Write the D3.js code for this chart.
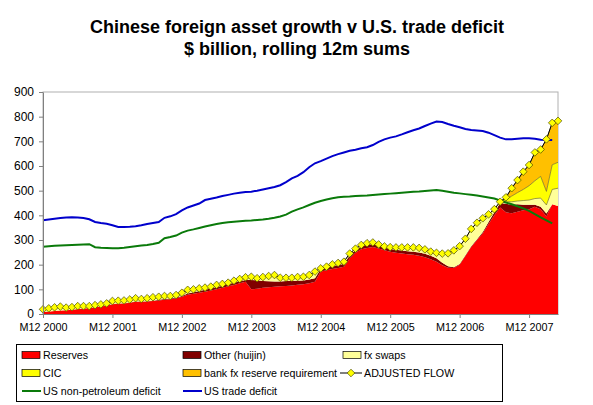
<!DOCTYPE html>
<html><head><meta charset="utf-8">
<script src="https://cdn.jsdelivr.net/npm/d3@7"></script>
<style>
body{margin:0;background:#fff}
svg{display:block}
text{font-family:"Liberation Sans",Arial,sans-serif}
</style></head>
<body><svg id="c" width="593" height="405"></svg>
<script>
// ---- data ($ billion, rolling 12m sums), monthly from Dec 2000 ----
const months = d3.range(90).map(i => "M" + ((11 + i) % 12 + 1) + " " + (2000 + Math.floor((11 + i) / 12)));
const xTickLabels = ["M12 2000","M12 2001","M12 2002","M12 2003","M12 2004","M12 2005","M12 2006","M12 2007"];
const yTicks = [0,100,200,300,400,500,600,700,800,900];

const reserves = [8,10,12,14,15,17,20,22,24,27,
  30,34,40,42,43,46,50,50,51,53,
  55,58,60,64,70,78,82,86,90,95,
  100,106,112,118,125,131,100,102,106,108,
  110,112,114,116,119,121,125,131,172,177,
  182,186,192,225,248,262,268,272,266,258,
  252,248,245,242,240,236,230,222,212,198,
  188,186,200,235,272,300,327,365,400,432,
  412,408,415,421,425,435,425,395,445,438];
const other = [0,0,0,0,0,0,0,0,0,0,
  0,0,1,1,1,1,1,1,1,1,
  3,3,3,3,3,5,6,7,8,8,
  9,9,9,9,8,7,38,35,28,25,
  22,20,20,18,16,15,15,14,10,10,
  12,12,12,12,12,12,12,12,12,12,
  12,12,12,12,12,13,14,14,14,10,
  6,4,3,3,3,3,5,8,12,18,
  35,35,30,22,18,8,10,12,0,0];
const fxSwaps = [11,13,15,16,11,11,12,10,8,9,
  9,9,12,11,11,12,13,10,12,14,
  12,12,10,10,13,15,12,11,9,8,
  9,7,6,8,9,11,13,8,16,21,
  26,15,13,13,15,15,18,27,3,5,
  7,9,8,8,5,6,7,6,4,4,
  7,10,13,16,18,19,18,17,22,37,
  52,68,72,67,70,67,56,31,13,5,
  8,12,13,17,19,25,35,35,60,72];
const cic = [0,0,0,0,0,0,0,0,0,0,
  0,0,0,0,0,0,0,0,0,0,
  0,0,0,0,0,0,0,0,0,0,
  0,0,0,0,0,0,0,0,0,0,
  0,0,0,0,0,0,0,0,0,0,
  0,0,0,0,0,0,0,0,0,0,
  0,0,0,0,0,0,0,0,0,0,
  0,0,0,0,0,0,0,0,0,0,
  10,23,34,45,58,72,88,55,100,105];
const bank = [0,0,0,0,0,0,0,0,0,0,
  0,0,0,0,0,0,0,0,0,0,
  0,0,0,0,0,0,0,0,0,0,
  0,0,0,0,0,0,0,0,0,0,
  0,0,0,0,0,0,0,0,0,0,
  0,0,0,0,0,0,0,0,0,0,
  0,0,0,0,0,0,0,0,0,0,
  0,0,0,0,0,0,0,0,0,0,
  8,32,51,72,84,115,109,211,170,168];
const adjustedFlow = [19,23,27,30,26,28,32,32,32,36,
  39,43,53,54,55,59,64,61,64,68,
  70,73,73,77,86,98,100,104,107,111,
  118,122,127,135,142,149,151,145,150,154,
  158,147,147,147,150,151,158,172,185,192,
  201,207,212,245,265,280,287,290,282,274,
  271,270,270,270,270,268,262,253,248,245,
  246,258,275,305,345,370,388,404,425,455,
  473,510,543,577,604,655,667,708,775,783];
const nonPetroleum = [273,275,277,278,279,280,281,282,283,271,
  269,268,267,267,269,272,275,278,280,284,
  289,307,312,318,330,338,343,349,355,360,
  365,369,372,374,376,378,379,381,383,386,
  390,395,403,415,424,432,442,451,458,464,
  469,473,475,476,478,479,480,482,484,486,
  488,490,492,494,496,497,499,501,503,500,
  496,492,489,486,483,480,476,472,468,460,
  452,445,437,428,418,405,392,380,367];
const tradeDeficit = [380,383,386,389,391,392,391,389,384,373,
  369,366,360,353,353,354,356,360,365,369,
  373,390,396,405,420,432,440,448,462,467,
  472,478,483,488,492,495,496,500,505,510,
  515,522,535,550,560,575,595,611,620,630,
  640,648,655,662,666,672,676,685,698,708,
  715,720,728,737,745,752,762,772,780,778,
  770,763,757,750,746,744,742,735,725,715,
  708,708,710,712,712,710,706,705,705];

// ---- setup ----
const svg = d3.select("#c");
const L = 43, R = 558, T = 92, B = 314;
const x = d3.scalePoint().domain(months).range([L, R]);
const y = d3.scaleLinear().domain([0, 900]).range([B, T]);

const stackKeys = ["reserves","other","fxSwaps","cic","bank"];
const stackColors = {reserves:"#FF0000", other:"#800000", fxSwaps:"#FFFF99", cic:"#FFFF00", bank:"#FFC000"};
const rows = months.map((m, i) => ({m, i, reserves:reserves[i], other:other[i], fxSwaps:fxSwaps[i], cic:cic[i], bank:bank[i]}));
const series = d3.stack().keys(stackKeys)(rows);

// title
svg.append("text").attr("x", 297).attr("y", 33).attr("text-anchor","middle")
  .attr("font-size", 18).attr("font-weight","bold").text("Chinese foreign asset growth v U.S. trade deficit");
svg.append("text").attr("x", 297).attr("y", 55).attr("text-anchor","middle")
  .attr("font-size", 18).attr("font-weight","bold").text("$ billion, rolling 12m sums");

// plot border
svg.append("rect").attr("x", L).attr("y", T).attr("width", R - L).attr("height", B - T)
  .attr("fill","none").attr("stroke","#b0b0b0");

// areas
const area = d3.area().x(d => x(d.data.m)).y0(d => y(d[0])).y1(d => y(d[1]));
svg.append("g").selectAll("path").data(series).join("path")
  .attr("d", area).attr("fill", d => stackColors[d.key]);

// outlines on upper layers
const topLine = d3.line().x(d => x(d.data.m)).y(d => y(d[1]));
series.filter(s => s.key === "fxSwaps").forEach(s => {
  svg.append("path").attr("d", topLine(s)).attr("fill","none").attr("stroke","#5a5a20").attr("stroke-width",0.6);
});
series.filter(s => s.key === "cic" || s.key === "bank").forEach(s => {
  const seg = s.filter((d, i) => i >= 79);
  svg.append("path").attr("d", topLine(seg)).attr("fill","none").attr("stroke","#5a5a20").attr("stroke-width",0.6);
});

// lines
const line = d3.line().x((d, i) => x(months[i])).y(d => y(d));
svg.append("path").attr("d", line(nonPetroleum)).attr("fill","none").attr("stroke","#0A7A0A").attr("stroke-width",2);
svg.append("path").attr("d", line(tradeDeficit)).attr("fill","none").attr("stroke","#0000CC").attr("stroke-width",2);
svg.append("path").attr("d", line(adjustedFlow)).attr("fill","none").attr("stroke","#000").attr("stroke-width",1);

const diamond = "M0,-3.8L3.8,0L0,3.8L-3.8,0Z";
svg.append("g").selectAll("path").data(adjustedFlow).join("path")
  .attr("d", diamond)
  .attr("transform", (d, i) => `translate(${x(months[i])},${y(d)})`)
  .attr("fill","#FFFF00").attr("stroke","#4a4a00").attr("stroke-width",0.7);

// axes
const yAxis = svg.append("g").attr("transform", `translate(${L},0)`)
  .call(d3.axisLeft(y).tickValues(yTicks).tickSize(4).tickSizeOuter(0).tickPadding(5));
yAxis.selectAll("text").attr("font-size", 12).attr("fill","#000")
  .style("font-family",'"Liberation Sans",Arial,sans-serif');
const xAxis = svg.append("g").attr("transform", `translate(0,${B})`)
  .call(d3.axisBottom(x).tickValues(xTickLabels).tickSize(4).tickSizeOuter(0).tickPadding(5));
xAxis.selectAll("text").attr("font-size", 10.8).attr("fill","#000")
  .style("font-family",'"Liberation Sans",Arial,sans-serif');
[yAxis, xAxis].forEach(a => { a.selectAll("line,path").attr("stroke","#808080"); });

// legend
const lg = svg.append("g");
lg.append("rect").attr("x", 16.5).attr("y", 344.5).attr("width", 486).attr("height", 57)
  .attr("fill","#fff").attr("stroke","#000");
const legendItems = [
  {label:"Reserves", type:"patch", color:stackColors.reserves, col:0, row:0},
  {label:"Other (huijin)", type:"patch", color:stackColors.other, col:1, row:0},
  {label:"fx swaps", type:"patch", color:stackColors.fxSwaps, col:2, row:0},
  {label:"CIC", type:"patch", color:stackColors.cic, col:0, row:1},
  {label:"bank fx reserve requirement", type:"patch", color:stackColors.bank, col:1, row:1},
  {label:"ADJUSTED FLOW", type:"diamond", color:"#000", col:2, row:1},
  {label:"US non-petroleum deficit", type:"line", color:"#0A7A0A", col:0, row:2},
  {label:"US trade deficit", type:"line", color:"#0000CC", col:1, row:2}
];
const colX = [22, 183, 343], rowY = [355, 373, 391];
legendItems.forEach(it => {
  const sx = colX[it.col], cy = rowY[it.row];
  if (it.type === "patch") {
    lg.append("rect").attr("x", sx).attr("y", cy - 3.5).attr("width", 18).attr("height", 7)
      .attr("fill", it.color).attr("stroke","#000").attr("stroke-width",0.7);
  } else if (it.type === "line") {
    lg.append("line").attr("x1", sx).attr("x2", sx + 19).attr("y1", cy).attr("y2", cy)
      .attr("stroke", it.color).attr("stroke-width",2);
  } else {
    lg.append("line").attr("x1", sx - 3).attr("x2", sx + 19).attr("y1", cy).attr("y2", cy)
      .attr("stroke","#000").attr("stroke-width",1);
    lg.append("path").attr("d", diamond).attr("transform", `translate(${sx + 8},${cy})`)
      .attr("fill","#FFFF00").attr("stroke","#4a4a00").attr("stroke-width",0.7);
  }
  lg.append("text").attr("x", sx + 21).attr("y", cy + 4).attr("font-size", 10.7).attr("fill","#000").text(it.label);
});
</script></body></html>
